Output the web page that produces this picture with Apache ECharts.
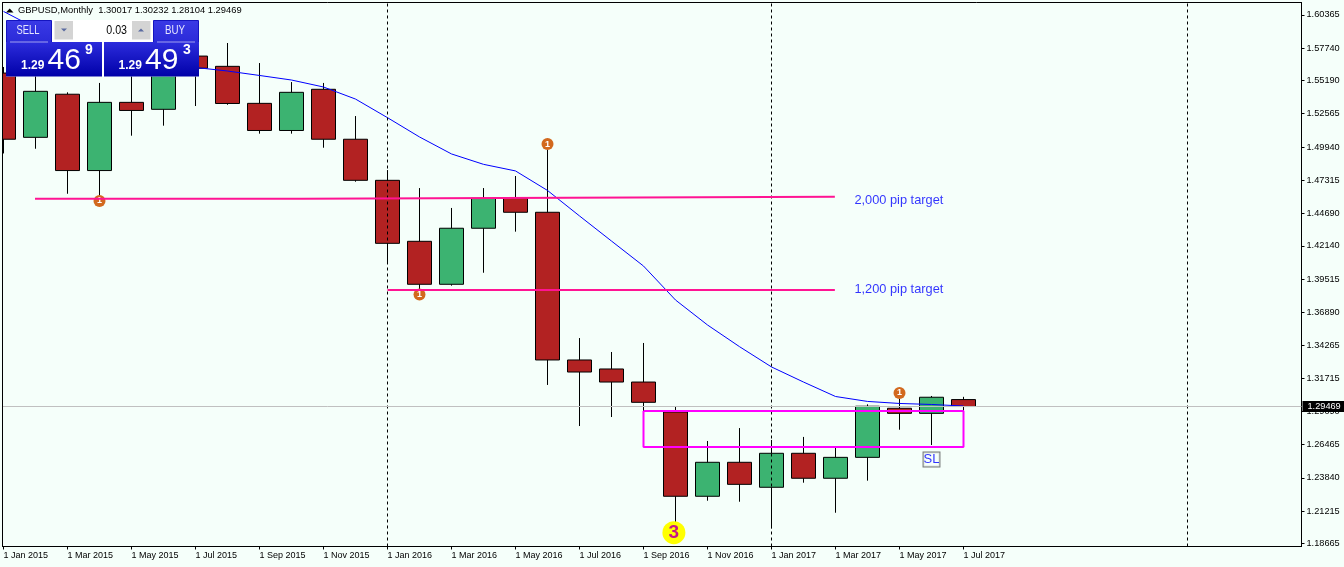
<!DOCTYPE html>
<html><head><meta charset="utf-8">
<style>html,body{margin:0;padding:0;background:#f5fffa}#c{width:1344px;height:567px}</style>
<script src="https://cdn.jsdelivr.net/npm/echarts@6/dist/echarts.min.js"></script>
</head><body><div id="c"></div>
<script>
const monthLabels = ['1 Jan 2015','1 Mar 2015','1 May 2015','1 Jul 2015','1 Sep 2015','1 Nov 2015','1 Jan 2016','1 Mar 2016','1 May 2016','1 Jul 2016','1 Sep 2016','1 Nov 2016','1 Jan 2017','1 Mar 2017','1 May 2017','1 Jul 2017'];
const priceTicks = [1.18665,1.21215,1.23840,1.26465,1.29090,1.31715,1.34265,1.36890,1.39515,1.42140,1.44690,1.47315,1.49940,1.52565,1.55190,1.57740,1.60365];
const opens  = [1.5577,1.5070,1.5410,1.4808,1.5346,1.5291,1.5711,1.5630,1.5338,1.5124,1.5449,1.5055,1.4731,1.4250,1.3911,1.4353,1.4589,1.4479,1.3314,1.3243,1.3140,1.2904,1.2239,1.2507,1.2310,1.2578,1.2381,1.2546,1.2933,1.2893,1.30017];
const closes = [1.5055,1.5433,1.4808,1.5346,1.5282,1.5711,1.5615,1.5337,1.5124,1.5425,1.5055,1.4731,1.4234,1.3911,1.4353,1.4589,1.4479,1.3314,1.3219,1.3140,1.2980,1.2239,1.2507,1.2333,1.2578,1.2381,1.2546,1.2949,1.2893,1.3020,1.29469];
const lows   = [1.4943,1.4980,1.4625,1.4584,1.5083,1.5162,1.5317,1.5327,1.5099,1.5099,1.4988,1.4720,1.4077,1.3827,1.3900,1.4002,1.4326,1.3117,1.2793,1.2864,1.2912,1.2036,1.2204,1.2196,1.1986,1.2346,1.2109,1.2362,1.2764,1.2643,1.28104];
const highs  = [1.5625,1.5554,1.5425,1.5499,1.5815,1.5930,1.5720,1.5814,1.5656,1.5506,1.5499,1.5238,1.4812,1.4670,1.4513,1.4670,1.4765,1.5025,1.3487,1.3377,1.3448,1.2951,1.2675,1.2777,1.2683,1.2707,1.2620,1.2964,1.3061,1.3030,1.30232];
const maValues = [1.6063,1.5932,1.5838,1.5759,1.5704,1.5656,1.5621,1.5593,1.5558,1.5522,1.5467,1.5372,1.5225,1.5073,1.4939,1.4857,1.4805,1.4651,1.4450,1.4252,1.4055,1.3787,1.3590,1.3419,1.3259,1.3140,1.3026,1.2987,1.2971,1.2963,1.2951];
const separatorMonths = [12, 24, 37];
const lastPrice = 1.29469;
const target2000 = [[0.984,1.4586],[9.328,1.4586],[9.328,1.4594],[17.64,1.4594],[17.64,1.4602],[25.98,1.4602]];
const target1200 = [[12,1.3866],[25.98,1.3866]];
const zoneBox = [[20,1.2912],[30,1.2912],[30,1.2628],[20,1.2628],[20,1.2912]];
const arrowMarks = [[3,1.4568],[13,1.3830],[17,1.5017],[28,1.3054]];
const waveMark = [[20.95,1.1952]];
const slMark = [[29,1.2529]];
const targetNotes = [[27.98,1.4574,'2,000 pip target'],[27.98,1.3869,'1,200 pip target']];
const headerText = 'GBPUSD,Monthly  1.30017 1.30232 1.28104 1.29469';

const FONT = '"Liberation Sans", Arial, sans-serif';
const candleData = opens.map((o,i)=>[i,o,closes[i],lows[i],highs[i]]);
const maData = maValues.map((v,i)=>[i,v]);
const blueGrad = (c1,c2)=>({type:'linear',x:0,y:0,x2:0,y2:1,colorStops:[{offset:0,color:c1},{offset:1,color:c2}]});
const txt = (x,y,text,font,fill,align,sx)=>({type:'text',z:102,x,y,scaleX:sx||1,style:{x:0,y:0,text,font,fill,align:align||'left',verticalAlign:'middle',textAlign:align||'left',textVerticalAlign:'middle'}});
const rect = (x,y,w,h,fill,z,stroke)=>({type:'rect',z:z||101,shape:{x,y,width:w,height:h},style:{fill,stroke:stroke||null,lineWidth:1}});

const panel = [
  rect(0,0,2,567,'#f5fffa',90),
  rect(2,2,1,545,'#000000',90),
  {type:'polygon',z:100,shape:{points:[[6,12.5],[13.5,12.5],[9.7,8.5]]},style:{fill:'#000'}},
  rect(6,20,193,56.5,'#ffffff',100),
  rect(6.5,20.5,45,22,blueGrad('#3a3ae6','#2a2ad8'),101,'#1414c0'),
  rect(153.5,20.5,45,22,blueGrad('#3a3ae6','#2a2ad8'),101,'#1414c0'),
  rect(6,42,96,34.5,blueGrad('#2c2cdc','#0000a8')),
  rect(104,42,95,34.5,blueGrad('#2c2cdc','#0000a8')),
  rect(54.5,21,18.5,18.5,'#d4d4d4'),
  rect(132,21,18.5,18.5,'#d4d4d4'),
  {type:'polygon',z:102,shape:{points:[[61,28.5],[67,28.5],[64,31.5]]},style:{fill:'#5a6aa0'}},
  {type:'polygon',z:102,shape:{points:[[138,31.5],[144,31.5],[141,28.5]]},style:{fill:'#5a6aa0'}},
  rect(10,41.5,38,1,'#a0a0f0',102),
  rect(157,41.5,38,1,'#a0a0f0',102),
  txt(28,30.5,'SELL','13px '+FONT,'#e6e6ff','center',0.72),
  txt(175,30.5,'BUY','13px '+FONT,'#e6e6ff','center',0.75),
  txt(127,30,'0.03','13px '+FONT,'#000000','right',0.82),
  txt(21,65.5,'1.29','bold 12px '+FONT,'#ffffff'),
  txt(47.5,60.5,'46','30px '+FONT,'#ffffff'),
  txt(85,50.5,'9','bold 14px '+FONT,'#ffffff'),
  txt(118.5,65.5,'1.29','bold 12px '+FONT,'#ffffff'),
  txt(145,60.5,'49','30px '+FONT,'#ffffff'),
  txt(183,50.5,'3','bold 14px '+FONT,'#ffffff'),
  txt(18,10.5,headerText,'9.4px '+FONT,'#000000')
];

const option = {
  animation:false,
  backgroundColor:'#f5fffa',
  grid:{left:2.5,top:2.5,right:42.5,bottom:20.5,show:true,borderColor:'#000',borderWidth:1,backgroundColor:'#f5fffa'},
  xAxis:{type:'value',min:-0.03125,max:40.5625,splitLine:{show:false},
    axisLine:{show:true,onZero:false,lineStyle:{color:'#000'}},
    axisTick:{show:true,length:3,lineStyle:{color:'#000'},customValues:monthLabels.map((_,i)=>i*2)},
    axisLabel:{customValues:monthLabels.map((_,i)=>i*2),formatter:v=>monthLabels[Math.round(v/2)],align:'left',margin:5,color:'#000',fontFamily:FONT,fontSize:9}},
  yAxis:{type:'value',position:'right',min:1.18428,max:1.61335,splitLine:{show:false},
    axisLine:{show:true,onZero:false,lineStyle:{color:'#000'}},
    axisTick:{show:true,length:3,lineStyle:{color:'#000'},customValues:priceTicks},
    axisLabel:{customValues:priceTicks,formatter:v=>v.toFixed(5),margin:5,color:'#000',fontFamily:FONT,fontSize:9.2}},
  graphic:panel,
  series:[
    {type:'line',z:1,silent:true,data:[],symbol:'none',
      markLine:{silent:true,symbol:'none',label:{show:false},lineStyle:{color:'#000',type:[3,3],width:1},data:separatorMonths.map(m=>({xAxis:m}))}},
    {type:'candlestick',z:3,barWidth:24,data:candleData,
      itemStyle:{color:'#3cb371',color0:'#b22222',borderColor:'#000',borderColor0:'#000',borderWidth:1}},
    {type:'line',z:4,silent:true,data:maData,symbol:'none',lineStyle:{color:'#0000ff',width:1}},
    {type:'scatter',z:4,silent:true,data:arrowMarks,symbol:'circle',symbolSize:12,itemStyle:{color:'#d2691e',opacity:1},
      label:{show:true,position:'inside',formatter:'1',color:'#fff',fontFamily:FONT,fontSize:9,fontWeight:'bold'}},
    {type:'line',z:5,silent:true,data:target2000,symbol:'none',lineStyle:{color:'#ff1493',width:2}},
    {type:'line',z:5,silent:true,data:target1200,symbol:'none',lineStyle:{color:'#ff1493',width:2}},
    {type:'line',z:5,silent:true,data:zoneBox,symbol:'none',lineStyle:{color:'#ff00ff',width:2}},
    {type:'line',z:6,silent:true,data:[],symbol:'none',
      markLine:{silent:true,symbol:'none',z:50,precision:5,lineStyle:{color:'#c0c0c0',type:'solid',width:1},
        label:{show:true,position:'end',distance:1,formatter:()=>lastPrice.toFixed(5),backgroundColor:'#000',color:'#fff',fontFamily:FONT,fontSize:9.2,padding:[1,4,1,5]},
        data:[{yAxis:lastPrice}]}},
    {type:'scatter',z:7,silent:true,data:waveMark,symbol:'circle',symbolSize:23,itemStyle:{color:'#ffff00',opacity:1},
      label:{show:true,position:'inside',formatter:'3',color:'#c71585',fontFamily:FONT,fontSize:19,fontWeight:'bold'}},
    {type:'scatter',z:7,silent:true,data:slMark,symbol:'circle',symbolSize:0,
      label:{show:true,position:'inside',formatter:'SL',color:'#0000ff',fontFamily:FONT,fontSize:13,backgroundColor:'#f5fffa',borderColor:'#555',borderWidth:1,padding:[1,0,0,0]}},
    {type:'scatter',z:7,silent:true,data:targetNotes,symbol:'circle',symbolSize:0,
      label:{show:true,position:'inside',formatter:p=>p.data[2],color:'#0000ff',fontFamily:FONT,fontSize:12.8}}
  ]
};
const chart = echarts.init(document.getElementById('c'),null,{renderer:'canvas'});
chart.setOption(option);
</script></body></html>
